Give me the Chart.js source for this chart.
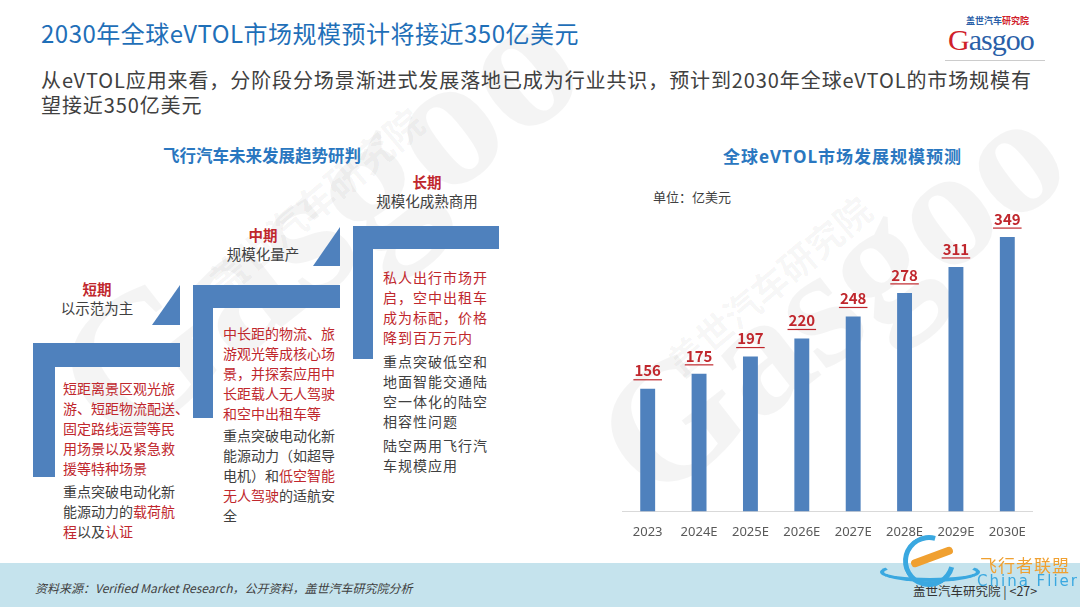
<!DOCTYPE html>
<html lang="zh-CN">
<head>
<meta charset="utf-8">
<title>2030年全球eVTOL市场规模预计将接近350亿美元</title>
<script src="https://cdn.jsdelivr.net/npm/chart.js@4.4.1/dist/chart.umd.min.js"></script>
<style>
  html, body { margin: 0; padding: 0; }
  body {
    width: 1080px; height: 607px; position: relative; overflow: hidden;
    background: #ffffff;
    font-family: "Noto Sans CJK SC", "Noto Sans", sans-serif;
    color: #404040;
  }
  .abs { position: absolute; white-space: nowrap; }
  .blue { background: #4f81bd; position: absolute; }
  .red { color: #c0272d; }
  .dark { color: #404040; }
  .head { font-weight: bold; font-size: 16.5px; color: #2a77c0; }
  .txt { font-size: 14px; line-height: 20px; }
  .wm { position: absolute; color: rgba(0,0,0,0.045); font-weight: bold; white-space: nowrap; }
</style>
</head>
<body>

<!-- watermark -->
<div class="wm" style="left:20px;top:330px;font-size:190px;line-height:190px;transform:rotate(-38deg);transform-origin:left top;font-family:'Liberation Serif',serif;">Gasgoo</div>
<div class="wm" style="left:195px;top:265px;font-size:38px;transform:rotate(-40deg);transform-origin:left top;">盖世汽车研究院</div>
<div class="wm" style="left:565px;top:395px;font-size:170px;line-height:170px;transform:rotate(-38deg);transform-origin:left top;font-family:'Liberation Serif',serif;">Gasgoo</div>
<div class="wm" style="left:655px;top:345px;font-size:36px;transform:rotate(-40deg);transform-origin:left top;">盖世汽车研究院</div>

<!-- header -->
<div class="abs" style="left:41px;top:15px;font-size:24px;letter-spacing:0.5px;color:#1f6fb8;">2030年全球eVTOL市场规模预计将接近350亿美元</div>
<div class="abs" style="left:41px;top:67px;font-size:20px;line-height:25px;letter-spacing:0.9px;color:#404040;">从eVTOL应用来看，分阶段分场景渐进式发展落地已成为行业共识，预计到2030年全球eVTOL的市场规模有<br>望接近350亿美元</div>

<!-- logo -->
<div class="abs" style="left:966px;top:14px;font-size:9px;font-weight:bold;color:#2a5fa8;">盖世汽车<span style="color:#d0202a">研究院</span></div>
<div class="abs" style="left:948px;top:24px;font-size:30px;line-height:32px;font-family:'Liberation Serif',serif;color:#2a5fa8;letter-spacing:-1px;"><span style="color:#d0202a">G</span>asgoo</div>
<div class="abs" style="left:945px;top:60px;width:100px;height:1px;background:#ccc;"></div>

<!-- left diagram -->
<div class="abs head" style="left:163px;top:143px;">飞行汽车未来发展趋势研判</div>

<div class="blue" style="left:33px;top:343px;width:147px;height:24px;"></div>
<div class="blue" style="left:33px;top:343px;width:22px;height:134px;"></div>
<div class="blue" style="left:152px;top:285px;width:28px;height:40px;clip-path:polygon(100% 0,100% 100%,0 100%);"></div>

<div class="blue" style="left:193px;top:285px;width:147px;height:23px;"></div>
<div class="blue" style="left:193px;top:285px;width:20px;height:133px;"></div>
<div class="blue" style="left:313px;top:227px;width:27px;height:39px;clip-path:polygon(100% 0,100% 100%,0 100%);"></div>

<div class="blue" style="left:353px;top:226px;width:146px;height:23px;"></div>
<div class="blue" style="left:353px;top:226px;width:20px;height:133px;"></div>

<div class="abs" style="left:47px;top:279px;width:100px;text-align:center;font-size:14.5px;line-height:19px;">
  <b class="red">短期</b><br><span class="dark">以示范为主</span></div>
<div class="abs" style="left:213px;top:225px;width:100px;text-align:center;font-size:14.5px;line-height:19px;">
  <b class="red">中期</b><br><span class="dark">规模化量产</span></div>
<div class="abs" style="left:367px;top:172px;width:120px;text-align:center;font-size:14.5px;line-height:19px;">
  <b class="red">长期</b><br><span class="dark">规模化成熟商用</span></div>

<div class="abs txt" style="left:63px;top:378px;">
  <span class="red">短距离景区观光旅<br>游、短距物流配送、<br>固定路线运营等民<br>用场景以及紧急救<br>援等特种场景</span>
  <div style="height:3px"></div>
  <span class="dark">重点突破电动化新<br>能源动力的<span class="red">载荷航</span><br><span class="red">程</span>以及<span class="red">认证</span></span>
</div>

<div class="abs txt" style="left:223px;top:323px;">
  <span class="red">中长距的物流、旅<br>游观光等成核心场<br>景，并探索应用中<br>长距载人无人驾驶<br>和空中出租车等</span>
  <div style="height:2px"></div>
  <span class="dark">重点突破电动化新<br>能源动力（如超导<br>电机）和<span class="red">低空智能</span><br><span class="red">无人驾驶</span>的适航安<br>全</span>
</div>

<div class="abs txt" style="left:383px;top:267px;letter-spacing:1px;">
  <span class="red">私人出行市场开<br>启，空中出租车<br>成为标配，价格<br>降到百万元内</span>
  <div style="height:4px"></div>
  <span class="dark">重点突破低空和<br>地面智能交通陆<br>空一体化的陆空<br>相容性问题</span>
  <div style="height:4px"></div>
  <span class="dark">陆空两用飞行汽<br>车规模应用</span>
</div>

<!-- right chart -->
<div class="abs head" style="left:723px;top:143px;font-size:17px;letter-spacing:1px;">全球<span style="font-family:'Open Sans',sans-serif;">eVTOL</span>市场发展规模预测</div>
<div class="abs" style="left:653px;top:187px;font-size:13px;color:#404040;">单位：亿美元</div>
<div style="position:absolute;left:622px;top:170px;width:411px;height:375px;">
  <canvas id="chart"></canvas>
</div>

<!-- footer -->
<div style="position:absolute;left:0;top:563px;width:1080px;height:44px;background:#c5e3ed;"></div>
<div class="abs" style="left:35px;top:579px;font-size:12px;font-style:italic;color:#404040;">资料来源：Verified Market Research，公开资料，盖世汽车研究院分析</div>
<div class="abs" style="left:913px;top:581px;font-size:12.5px;color:#333;">盖世汽车研究院 | &lt;27&gt;</div>
<div style="position:absolute;left:903px;top:535px;width:52px;height:52px;border:5px solid #3aa8e0;border-radius:50%;border-right-color:transparent;box-sizing:border-box;transform:rotate(-30deg);"></div>
<div style="position:absolute;left:880px;top:562px;width:100px;height:20px;border:4px solid #3aa8e0;border-radius:50%;border-top-color:transparent;box-sizing:border-box;"></div>
<div style="position:absolute;left:910px;top:553px;width:44px;height:8px;background:#f0a030;border-radius:4px;transform:rotate(-20deg);"></div>
<div class="abs" style="left:980px;top:552px;font-size:17px;color:#f0a030;letter-spacing:1px;">飞行者联盟</div>
<div class="abs" style="left:977px;top:572px;font-size:15px;color:#3aa8e0;letter-spacing:2px;font-family:'DejaVu Sans',sans-serif;">China Flier</div>

<script>
"use strict";

const years = ["2023", "2024E", "2025E", "2026E", "2027E", "2028E", "2029E", "2030E"];
const marketSize = [156, 175, 197, 220, 248, 278, 311, 349];

// red underlined numbers above the bars
const valueLabels = {
  id: "valueLabels",
  afterDatasetsDraw(chart) {
    const ctx = chart.ctx;
    const meta = chart.getDatasetMeta(0);
    ctx.save();
    ctx.font = "bold 15px 'Noto Sans CJK SC', sans-serif";
    ctx.fillStyle = "#c0272d";
    ctx.strokeStyle = "#c0272d";
    ctx.lineWidth = 1.2;
    ctx.textAlign = "center";
    ctx.textBaseline = "middle";
    for (let i = 0; i < meta.data.length; i++) {
      const bar = meta.data[i];
      const txt = String(marketSize[i]);
      const y = bar.y - 18;
      ctx.fillText(txt, bar.x, y);
      const w = ctx.measureText(txt).width;
      ctx.beginPath();
      ctx.moveTo(bar.x - w / 2 - 1, y + 9);
      ctx.lineTo(bar.x + w / 2 + 1, y + 9);
      ctx.stroke();
    }
    ctx.restore();
  }
};

const data = {
  labels: years,
  datasets: [
    {
      label: "亿美元",
      data: marketSize,
      backgroundColor: "#4f81bd",
      barPercentage: 0.29,
      categoryPercentage: 1,
    },
  ],
};

const config = {
  type: "bar",
  data: data,
  options: {
    responsive: true,
    maintainAspectRatio: false,
    animation: false,
    layout: { padding: { top: 27, bottom: 0, left: 0, right: 0 } },
    plugins: { legend: { display: false }, tooltip: { enabled: false } },
    scales: {
      x: {
        grid: { display: false },
        border: { display: true, color: "#d9d9d9", width: 1 },
        ticks: {
          color: "#595959",
          font: { size: 13, family: "'Noto Sans', sans-serif" },
          padding: 5,
          maxRotation: 0,
        },
      },
      y: {
        display: false,
        min: 0,
        max: 400,
      },
    },
  },
  plugins: [valueLabels],
};

const myChart = new Chart(document.getElementById("chart"), config);
</script>
</body>
</html>
